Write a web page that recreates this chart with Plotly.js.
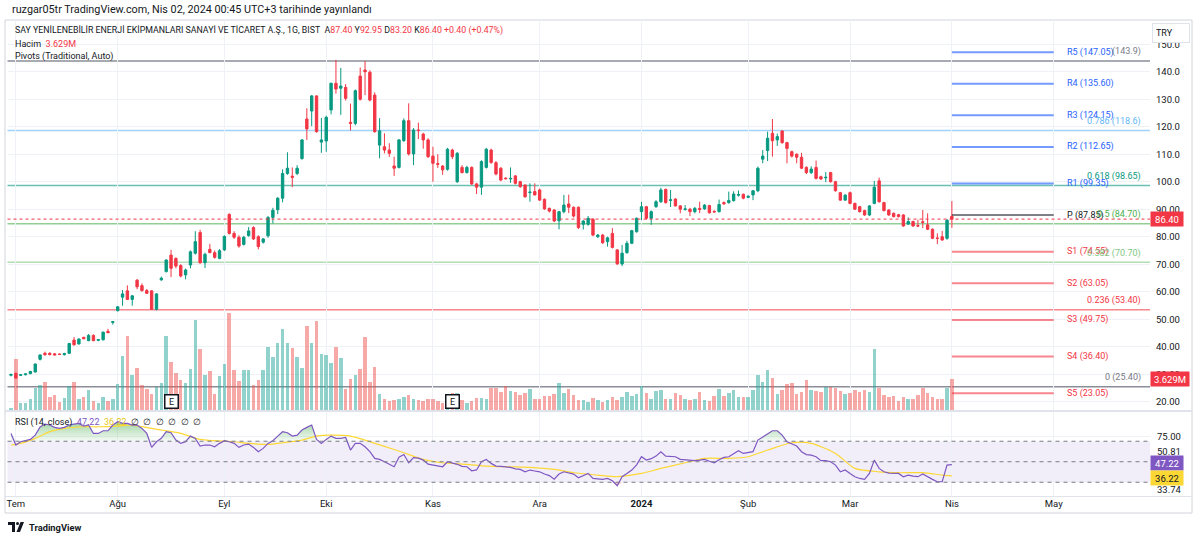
<!DOCTYPE html>
<html><head><meta charset="utf-8">
<script src="https://cdn.plot.ly/plotly-3.0.1.min.js"></script>
<style>html,body{margin:0;padding:0;background:#fff;}#chart{width:1200px;height:540px;}</style>
</head><body><div id="chart"></div>
<script>
// ---------------- DATA ----------------
const openP = [29.6,30.3,29.6,29.8,30.2,30.8,35.4,37.6,37.6,37.4,37.3,37.1,37.6,42.4,41.0,43.4,42.2,44.1,42.3,42.5,
45.6,48.8,53.1,58.0,60.3,57.2,64.2,62.2,60.4,60.3,53.6,64.3,67.3,73.3,72.1,69.5,66.1,69.7,74.0,81.5,
70.5,75.4,74.2,72.1,75.2,88.1,81.2,79.8,77.2,80.4,83.3,80.0,78.0,80.3,87.0,89.8,94.0,103.0,102.0,103.0,
108.4,122.8,125.7,131.2,114.4,114.8,126.1,135.8,134.0,134.3,121.6,121.2,138.4,140.6,139.8,131.5,113.3,112.7,111.5,105.7,
105.2,114.9,122.2,110.1,118.8,117.3,115.2,109.3,106.6,105.7,104.5,111.5,100.0,105.2,103.3,105.2,99.2,98.0,105.2,111.5,
106.9,104.9,101.3,101.0,102.1,100.0,98.8,96.0,96.4,97.0,93.6,90.3,89.7,85.8,89.1,91.9,90.7,90.7,84.5,84.5,
86.3,80.0,80.6,78.2,81.2,75.2,70.1,74.2,77.6,81.8,89.1,90.9,86.7,90.9,92.7,97.2,93.2,93.7,91.2,89.9,
90.0,89.1,90.3,90.1,91.3,89.2,89.1,92.4,92.4,93.1,95.1,95.4,94.3,95.2,96.7,108.2,111.3,117.6,115.2,118.4,
114.2,110.9,110.0,108.9,105.2,103.3,105.2,101.8,101.4,103.3,100.0,96.0,93.3,96.0,92.1,90.9,89.5,87.9,92.1,100.3,
92.4,89.7,88.5,88.0,87.9,84.6,85.5,84.0,85.4,84.3,82.7,79.5,80.0,79.4,87.40];
const highP = [30.2,30.6,30.0,30.3,31.2,33.9,37.2,38.2,38.0,37.7,37.5,37.8,41.3,43.5,43.0,43.6,44.6,44.5,42.8,45.4,
46.5,49.3,54.8,60.6,62.3,58.8,64.6,63.0,61.0,60.5,59.4,65.5,71.8,75.2,72.5,70.0,68.4,75.0,82.0,82.5,
74.2,77.4,75.0,75.5,80.5,88.5,82.0,80.5,80.3,83.5,83.8,80.5,79.5,87.5,90.5,94.4,104.5,110.7,105.2,106.0,
115.5,126.7,131.5,131.4,123.2,124.0,136.0,144.3,141.4,135.5,128.4,133.5,141.5,143.9,140.5,132.5,123.1,117.6,114.0,109.1,
115.5,123.0,128.5,119.5,121.5,117.8,115.8,112.7,110.0,106.0,112.3,112.0,110.8,106.0,105.8,105.6,99.6,107.8,112.3,112.0,
107.5,105.3,101.6,105.2,102.4,100.3,99.0,99.4,99.4,97.5,93.9,90.6,90.0,89.4,95.2,95.3,91.0,91.0,86.0,87.5,
86.8,81.0,81.0,80.0,83.1,75.5,77.0,78.5,82.5,87.0,92.7,91.2,89.5,93.3,97.8,97.5,97.0,94.0,91.5,91.5,
90.5,90.8,92.7,91.8,91.6,89.6,93.5,92.8,96.4,96.5,96.8,95.7,95.0,97.0,105.5,111.5,118.2,122.8,117.5,118.8,
114.5,111.3,110.3,110.5,105.6,105.6,107.7,102.2,103.5,103.6,100.3,96.3,95.5,96.4,92.4,91.2,89.8,91.5,100.3,101.5,
92.7,90.0,88.8,88.3,88.2,87.0,85.8,86.2,89.7,88.5,83.0,81.2,82.1,86.4,92.95];
const lowP = [29.2,28.3,29.4,29.6,30.0,30.6,35.0,36.7,36.9,36.9,37.0,36.8,37.4,40.4,40.8,42.7,42.0,42.0,42.0,42.3,
44.9,48.0,52.8,54.9,57.0,54.9,60.9,60.0,59.2,53.4,53.2,64.0,67.0,65.3,68.5,65.2,64.5,68.5,73.5,70.2,
68.6,74.0,72.0,71.8,74.8,80.8,79.2,76.0,76.8,80.0,78.8,75.4,77.5,79.6,84.8,88.2,92.5,102.5,98.0,102.4,
108.0,115.2,120.2,117.8,110.5,110.9,124.5,132.0,124.3,129.5,118.6,120.5,129.5,131.5,129.2,117.8,108.5,110.3,109.0,102.1,
104.8,114.5,109.5,106.0,115.5,112.0,108.6,100.0,105.0,102.5,104.0,108.2,99.5,103.0,103.0,98.8,95.5,95.2,104.8,106.5,
102.3,100.2,100.8,99.6,99.0,97.8,94.2,92.7,95.0,93.0,89.8,88.8,85.3,82.7,88.5,88.6,87.0,82.8,82.6,84.0,
80.2,79.5,77.4,76.4,75.7,69.8,69.3,73.8,77.3,81.5,86.0,86.2,84.3,90.5,92.3,92.0,90.8,91.0,88.5,89.5,
87.5,88.5,88.6,89.8,88.4,88.8,88.8,91.5,92.0,92.8,94.6,93.6,94.0,93.3,96.2,106.7,107.5,109.1,113.0,113.8,
106.7,108.8,106.7,104.6,102.8,102.8,100.8,100.6,99.8,99.7,96.4,93.0,93.0,91.8,89.7,88.8,87.6,87.5,91.8,92.4,
89.2,87.6,87.0,87.0,83.6,84.3,83.6,83.6,83.1,82.4,79.1,77.3,78.5,78.9,83.20];
const closeP = [29.9,28.6,29.8,30.1,31.0,33.7,37.0,37.1,37.1,37.0,37.2,37.5,41.2,40.7,42.8,42.9,44.1,42.2,42.6,45.3,
45.1,49.1,54.5,59.2,57.2,58.5,61.8,60.4,59.4,53.6,59.2,64.9,71.5,68.5,69.3,65.7,67.9,74.5,78.2,70.5,
73.6,74.2,72.5,74.9,80.1,81.2,79.8,76.6,79.8,82.1,79.2,76.4,79.2,87.0,89.6,94.0,103.0,104.9,101.6,104.9,
115.2,119.2,131.2,118.2,115.2,123.4,135.8,133.7,134.8,130.3,121.2,133.1,130.0,140.0,129.7,118.2,118.5,111.5,110.3,104.9,
115.2,122.2,110.1,118.8,118.6,115.2,109.1,106.7,106.3,104.3,111.8,109.1,110.3,103.3,105.2,99.2,98.0,107.3,111.8,107.0,
102.8,100.6,101.1,101.2,99.4,98.2,94.5,96.2,95.2,93.3,90.1,89.3,85.7,89.1,91.5,90.7,87.5,83.3,85.7,86.7,
80.6,80.6,77.8,79.6,76.1,70.1,74.0,77.6,82.2,86.7,90.9,86.7,89.1,92.7,97.0,92.4,93.4,91.2,90.0,90.1,
89.1,90.3,89.9,91.5,88.7,89.0,91.7,92.0,93.2,95.5,95.3,94.0,94.7,96.7,104.9,109.3,115.8,114.9,116.4,114.2,
112.1,109.3,108.9,104.9,103.3,104.6,101.2,101.0,101.6,100.0,96.7,93.3,95.1,92.1,90.0,89.1,87.9,91.2,98.0,92.7,
89.5,87.9,87.3,87.3,83.9,85.5,83.9,83.9,85.2,82.7,79.4,79.4,78.8,86.0,86.40];
const volumeM = [0.19,5.87,0.77,0.85,1.24,2.51,2.90,3.28,1.54,1.74,0.97,1.43,2.78,3.28,1.24,1.47,2.32,1.04,0.77,1.47,
1.04,1.27,3.01,6.29,8.57,4.05,4.90,2.90,2.39,1.81,2.70,3.09,8.57,5.60,4.25,3.47,3.17,4.75,10.42,7.03,
4.05,4.56,1.85,3.94,5.33,11.20,4.63,3.36,4.63,4.63,2.86,3.47,4.63,7.34,6.18,7.72,9.34,7.72,7.14,6.10,
4.83,9.73,7.72,10.35,6.49,6.37,5.48,7.26,6.06,2.39,3.55,4.05,4.71,8.49,3.28,5.02,1.81,1.24,1.08,1.16,
1.27,1.47,1.74,1.31,1.16,1.04,1.24,1.31,1.04,0.77,1.24,1.93,2.01,1.16,0.85,1.04,1.35,1.35,1.24,2.51,
2.59,2.12,2.78,2.20,2.08,1.74,2.01,2.39,1.31,1.24,1.62,1.62,1.85,3.17,2.01,2.43,1.74,1.16,1.16,0.97,
1.39,1.16,0.97,1.16,1.47,1.16,1.51,2.08,1.58,1.81,2.78,1.93,1.24,2.20,2.28,1.31,1.24,1.93,1.74,1.31,
1.16,1.24,2.08,1.16,1.04,1.62,2.39,1.62,1.93,2.28,1.54,1.54,1.54,2.28,4.05,3.28,4.59,3.67,1.81,2.32,
3.01,3.09,1.85,2.08,3.47,2.32,2.20,2.08,2.70,2.70,2.51,2.16,1.81,2.01,2.32,2.12,2.28,2.08,7.03,2.51,
1.74,1.47,1.62,1.04,1.47,1.27,1.27,1.74,2.51,1.93,1.54,1.24,1.24,2.55,3.629];
const rsi = [77.6,66.3,69.5,70.5,71.8,76,84,86.7,85.8,83.5,82.5,83.5,85.8,86.7,87.4,84.8,85.8,77.6,77.6,80.2,
80.2,85.8,89,87.4,87.4,85.8,85.8,82.5,77.6,64,69.5,72.8,79.3,78.3,71.1,67.9,69.5,75,72.8,65.3,
66.3,66.3,64.6,67.9,70.5,69.5,67.9,64,66.3,67.2,64,59.8,63,67.9,70.5,75,79.3,78.3,75,76,
80.9,83.5,85.8,71.8,67.9,71.8,75,72.8,72.8,73.7,61.4,67.9,67.9,64.6,59.8,53.3,52.3,50,47.7,45.1,
54.5,57,49,54,53.5,51.6,47.7,46.7,46,45.1,50,49,47.5,45.5,45.1,41.2,42,50,52.3,48.4,
45.8,45.4,45.1,44.5,43,42.5,40.2,41.9,41,40.2,38,36.5,33,38,40.2,39,38,34.4,36.5,38.6,
33.7,33.5,32.8,33.7,31.5,26.6,35.4,38.5,41.9,47,54.9,51.6,53,55.5,59.8,55.5,55.5,54.9,52.3,52,
51.6,51,51.5,52.3,50.5,49,52,54.2,54.9,58.1,60.7,58.1,58.8,59.8,71.1,74,77.6,80.2,80.2,76,
69.5,67,65.3,59.8,57,56.5,54.9,51,51,50,46.7,40.2,42,38.6,35.4,33.7,32.8,38.6,51.6,43.5,
40.2,39,38.6,38.6,35.4,37,36,35.4,38,35,32.8,30.5,30.5,46.8,47.22];
const rsiMaIdx = [0,2,5,8,11,15,18,22,25,29,32,35,39,42,46,49,53,56,60,63,66,70,73,77,81,85,89,94,98,103,
107,112,116,121,125,130,134,139,143,148,152,156,161,165,170,174,179,183,188,192,194];
const rsiMaVal = [66.3,67.9,72.8,79.3,82.5,84.1,84.1,84.8,85.8,82.5,80.2,77.6,71.8,70.5,69.5,67.9,66.9,68.5,71.1,75,
76,75,71.1,65,58.8,52.3,49,47.4,45.8,45.1,44.5,42.5,39.3,37,35.4,38.6,43.5,49,53.3,53.3,
54.9,61.4,68.5,67.9,58.1,43.5,40.2,39.3,39.3,37,36.22];
const monthTickIdx = [1,22,44,65,87,109,130,152,173,194,215];
const monthTickText = ['Tem','Ağu','Eyl','Eki','Kas','Ara','<b>2024</b>','Şub','Mar','Nis','May'];
const priceTicks = [20,30,40,50,60,70,80,90,100,110,120,130,140,150];
const pivotNames = ['R5','R4','R3','R2','R1','P','S1','S2','S3','S4','S5'];
const pivotVals = [147.05,135.60,124.15,112.65,99.35,87.85,74.55,63.05,49.75,36.40,23.05];
const fibLabels = ['','0.786','0.618','0.5','0.382','0.236','0'];
const fibVals = [143.9,118.6,98.65,84.70,70.70,53.40,25.40];
const fibColors = ['#787b86','#64b5f6','#089981','#4caf50','#81c784','#f23645','#787b86'];
const earningsIdx = [33,91];
const rsiLevels = [70,50,30];
const rsiScaleLabels = ['75.00','50.81','33.74'];

// ---------------- LAYOUT HELPERS ----------------
const W = 1200, H = 540;
const PX = x => x / W, PY = y => 1 - y / H;
const FONT = 'Roboto, "Noto Sans", sans-serif';
const TXT = '#131722';
const UP = '#089981', DN = '#f23645';
const n = closeP.length;
const idx = closeP.map((_, i) => i);
const last = n - 1;
const mayIdx = monthTickIdx[monthTickIdx.length - 1];

const xRange = [-0.72, 234.85];
const priceRange = [16.98, 158.8];
const volRange = [0, 45.2];
const rsiRange = [16.6, 98.5];
const mainDom = [PY(410), PY(20)];
const rsiDom = [PY(496), PY(412)];
const xDom = [PX(7.5), PX(1150)];

const volColors = idx.map(i => closeP[i] >= openP[i] ? 'rgba(38,166,154,0.5)' : 'rgba(239,83,80,0.5)');

const traces = [];
traces.push({type:'bar', x: idx, y: volumeM, xaxis:'x', yaxis:'y', width:0.72,
  marker:{color: volColors, line:{width:0}}, hoverinfo:'skip', showlegend:false});
traces.push({type:'candlestick', x: idx, open: openP, high: highP, low: lowP, close: closeP,
  xaxis:'x', yaxis:'y2', whiskerwidth:0,
  increasing:{line:{color:UP, width:1}, fillcolor:UP},
  decreasing:{line:{color:DN, width:1}, fillcolor:DN},
  hoverinfo:'skip', showlegend:false});
// pivot segments
pivotNames.forEach((nm, k) => {
  const col = nm[0] === 'R' ? 'rgba(41,98,255,0.65)' : nm[0] === 'S' ? 'rgba(242,54,69,0.6)' : 'rgba(19,23,34,0.55)';
  traces.push({type:'scatter', mode:'lines', x:[last, mayIdx], y:[pivotVals[k], pivotVals[k]],
    xaxis:'x', yaxis:'y2', line:{color: col, width: 2}, hoverinfo:'skip', showlegend:false, cliponaxis:false});
});
// RSI fills
traces.push({type:'scatter', mode:'lines', x: idx, y: idx.map(() => 70), xaxis:'x2', yaxis:'y3',
  line:{width:0, color:'rgba(0,0,0,0)'}, hoverinfo:'skip', showlegend:false});
traces.push({type:'scatter', mode:'lines', x: idx, y: rsi.map(v => Math.max(v, 70)), xaxis:'x2', yaxis:'y3',
  fill:'tonexty', fillcolor:'rgba(76,175,80,0.3)',
  fillgradient:{type:'vertical', start:70, stop:90, colorscale:[[0,'rgba(76,175,80,0.05)'],[1,'rgba(76,175,80,0.55)']]},
  line:{width:0, color:'rgba(0,0,0,0)'}, hoverinfo:'skip', showlegend:false});
traces.push({type:'scatter', mode:'lines', x: idx, y: idx.map(() => 30), xaxis:'x2', yaxis:'y3',
  line:{width:0, color:'rgba(0,0,0,0)'}, hoverinfo:'skip', showlegend:false});
traces.push({type:'scatter', mode:'lines', x: idx, y: rsi.map(v => Math.min(v, 30)), xaxis:'x2', yaxis:'y3',
  fill:'tonexty', fillcolor:'rgba(242,54,69,0.25)',
  line:{width:0, color:'rgba(0,0,0,0)'}, hoverinfo:'skip', showlegend:false});
traces.push({type:'scatter', mode:'lines', x: rsiMaIdx, y: rsiMaVal, xaxis:'x2', yaxis:'y3',
  line:{color:'#fdd835', width:1.2, shape:'spline', smoothing:0.7}, hoverinfo:'skip', showlegend:false});
traces.push({type:'scatter', mode:'lines', x: idx, y: rsi, xaxis:'x2', yaxis:'y3',
  line:{color:'#7e57c2', width:1.2}, hoverinfo:'skip', showlegend:false});

// ---------------- SHAPES ----------------
const shapes = [];
shapes.push({type:'rect', xref:'paper', yref:'paper', x0:PX(5), x1:PX(1192), y0:PY(513), y1:PY(20),
  line:{color:'#d1d4dc', width:1}, layer:'below'});
shapes.push({type:'line', xref:'paper', yref:'paper', x0:PX(5), x1:PX(1192), y0:PY(411), y1:PY(411),
  line:{color:'#e0e3eb', width:2}});
shapes.push({type:'line', xref:'paper', yref:'paper', x0:PX(5), x1:PX(1192), y0:PY(496.5), y1:PY(496.5),
  line:{color:'#e0e3eb', width:1}});
fibVals.forEach((v, k) => shapes.push({type:'line', xref:'x domain', yref:'y2', x0:0, x1:1, y0:v, y1:v,
  line:{color: fibColors[k], width:1.5}, opacity: (k === 0 || k === 6) ? 0.85 : 0.6, layer:'below'}));
shapes.push({type:'line', xref:'x domain', yref:'y2', x0:0, x1:1, y0:closeP[last], y1:closeP[last],
  line:{color:DN, width:1, dash:'dot'}});
shapes.push({type:'rect', xref:'x2 domain', yref:'y3', x0:0, x1:1, y0:rsiLevels[2], y1:rsiLevels[0],
  fillcolor:'rgba(126,87,194,0.1)', line:{width:0}, layer:'below'});
rsiLevels.forEach(v => shapes.push({type:'line', xref:'x2 domain', yref:'y3', x0:0, x1:1, y0:v, y1:v,
  line:{color:'#787b86', width:1, dash:'4px,4px'}}));
const pathPx = pts => pts.map((p, j) => (j ? 'L ' : 'M ') + PX(p[0]) + ' ' + PY(p[1])).join(' ') + ' Z';
shapes.push({type:'path', xref:'paper', yref:'paper', path: pathPx([[8,522],[15,522],[15,532],[12,532],[12,525],[8,525]]),
  fillcolor:TXT, line:{width:0}});
shapes.push({type:'circle', xref:'paper', yref:'paper', x0:PX(16), x1:PX(19), y0:PY(525), y1:PY(522),
  fillcolor:TXT, line:{width:0}});
shapes.push({type:'path', xref:'paper', yref:'paper', path: pathPx([[20.5,522],[24,522],[20,532],[16.5,532]]),
  fillcolor:TXT, line:{width:0}});

// ---------------- ANNOTATIONS ----------------
const ann = [];
const red = s => '<span style="color:#f23645">' + s + '</span>';
const A = (x, y, text, extra) => Object.assign({xref:'paper', yref:'paper', x:PX(x), y:PY(y), text,
  showarrow:false, xanchor:'left', yanchor:'middle', font:{family:FONT, size:9, color:TXT}}, extra || {});
const chg = closeP[last] - closeP[last - 1];
const pct = chg / closeP[last - 1] * 100;
ann.push(A(10, 10, 'ruzgar05tr TradingView.com, Nis 02, 2024 00:45 UTC+3 tarihinde yayınlandı', {font:{family:FONT, size:10.8, color:TXT}}));
ann.push(A(13, 31, 'SAY YENİLENEBİLİR ENERJİ EKİPMANLARI SANAYİ VE TİCARET A.Ş., 1G, BIST\u00a0 A' + red(openP[last].toFixed(2)) +
  ' Y' + red(highP[last].toFixed(2)) + ' D' + red(lowP[last].toFixed(2)) + ' K' + red(closeP[last].toFixed(2)) +
  ' ' + red((chg >= 0 ? '+' : '') + chg.toFixed(2) + ' (' + (pct >= 0 ? '+' : '') + pct.toFixed(2) + '%)'),
  {font:{family:FONT, size:8.8, color:TXT}}));
ann.push(A(13, 44, 'Hacim\u00a0 ' + red(volumeM[last].toFixed(3) + 'M')));
ann.push(A(13, 56, 'Pivots (Traditional, Auto)'));
ann.push(A(13, 422, 'RSI (14, close)\u00a0 <span style="color:#7e57c2">' + rsi[last].toFixed(2) + '</span>\u00a0 <span style="color:#e6c619">' +
  rsiMaVal[rsiMaVal.length - 1].toFixed(2) + '</span>\u00a0 ∅\u00a0 ∅\u00a0 ∅\u00a0 ∅\u00a0 ∅\u00a0 ∅'));
ann.push(A(27, 527, '<b>TradingView</b>', {font:{family:FONT, size:9.3, color:TXT}}));
ann.push(A(1152, 33, 'TRY', {bgcolor:'#fff', bordercolor:'#e0e3eb', borderwidth:1, borderpad:3, width:30, height:12, align:'left'}));
pivotNames.forEach((nm, k) => ann.push({xref:'paper', yref:'y2', x:PX(1065), y:pivotVals[k], xanchor:'left', yanchor:'middle',
  showarrow:false, text: nm + ' (' + pivotVals[k].toFixed(2) + ')',
  font:{family:FONT, size:9, color: nm[0] === 'R' ? '#2962ff' : nm[0] === 'S' ? '#f23645' : TXT}}));
fibVals.forEach((v, k) => ann.push({xref:'paper', yref:'y2', x:PX(1143), y:v, xanchor:'right', yanchor:'middle', yshift:9,
  showarrow:false, text: (fibLabels[k] ? fibLabels[k] + ' ' : '') + '(' + (v >= 100 ? v.toFixed(1) : v.toFixed(2)) + ')',
  font:{family:FONT, size:9, color: fibColors[k]}}));
ann.push({xref:'paper', yref:'y2', x:PX(1150), y:closeP[last], xanchor:'left', yanchor:'middle', showarrow:false,
  text:closeP[last].toFixed(2), bgcolor:DN, borderpad:1.5, width:29, font:{family:FONT, size:9.5, color:'#fff'}});
ann.push({xref:'paper', yref:'y', x:PX(1150), y:volumeM[last], xanchor:'left', yanchor:'middle', showarrow:false,
  text:volumeM[last].toFixed(3) + 'M', bgcolor:DN, borderpad:1.5, width:35, font:{family:FONT, size:9.5, color:'#fff'}});
const rsiLabelVals = [75, 50.81, 33.74];
const rsiLabelShift = [0, 9, -11];
rsiScaleLabels.forEach((t, k) => ann.push({xref:'paper', yref:'y3', x:PX(1155), y:rsiLabelVals[k], yshift:rsiLabelShift[k],
  xanchor:'left', yanchor:'middle', showarrow:false, text:t, font:{family:FONT, size:9.5, color:TXT}}));
ann.push({xref:'paper', yref:'y3', x:PX(1150), y:rsi[last], yshift:2, xanchor:'left', yanchor:'middle', showarrow:false,
  text:rsi[last].toFixed(2), bgcolor:'#7e57c2', borderpad:1.5, width:29, font:{family:FONT, size:9.5, color:'#fff'}});
ann.push({xref:'paper', yref:'y3', x:PX(1150), y:rsiMaVal[rsiMaVal.length - 1], yshift:-2, xanchor:'left', yanchor:'middle', showarrow:false,
  text:rsiMaVal[rsiMaVal.length - 1].toFixed(2), bgcolor:'#fdd835', borderpad:1.5, width:29, font:{family:FONT, size:9.5, color:TXT}});
earningsIdx.forEach(e => ann.push({xref:'x', yref:'paper', x:e, y:PY(401), xanchor:'center', yanchor:'middle', showarrow:false,
  text:'E', bgcolor:'#fff', bordercolor:TXT, borderwidth:1.5, borderpad:1, width:10, height:10,
  font:{family:FONT, size:9, color:TXT}}));

const layout = {
  width:W, height:H, margin:{l:0, r:0, t:0, b:0}, paper_bgcolor:'#fff', plot_bgcolor:'rgba(0,0,0,0)',
  showlegend:false, hovermode:false, dragmode:false, bargap:0,
  xaxis:{domain:xDom, range:xRange, anchor:'y', tickvals:monthTickIdx, showticklabels:false, showgrid:true,
    gridcolor:'#eef1f6', zeroline:false, showline:false, ticks:'', rangeslider:{visible:false}, fixedrange:true},
  xaxis2:{domain:xDom, range:xRange, anchor:'y3', matches:'x', tickvals:monthTickIdx, ticktext:monthTickText,
    showgrid:true, gridcolor:'#eef1f6', zeroline:false, showline:false, ticks:'', ticklabelstandoff:0,
    tickfont:{family:FONT, size:9.5, color:TXT}, fixedrange:true},
  yaxis:{domain:mainDom, range:volRange, anchor:'x', visible:false, fixedrange:true},
  yaxis2:{domain:mainDom, range:priceRange, overlaying:'y', anchor:'x', side:'right', tickvals:priceTicks,
    ticktext:priceTicks.map(v => v >= 100 ? v.toFixed(1) : v.toFixed(2)), showgrid:true, gridcolor:'#eef1f6',
    zeroline:false, showline:false, ticks:'', ticklabelstandoff:5, tickfont:{family:FONT, size:9.5, color:TXT}, fixedrange:true},
  yaxis3:{domain:rsiDom, range:rsiRange, anchor:'x2', side:'right', tickvals:[75], showticklabels:false,
    showgrid:true, gridcolor:'#eef1f6', zeroline:false, showline:false, ticks:'', fixedrange:true},
  shapes: shapes, annotations: ann
};
Plotly.newPlot('chart', traces, layout, {staticPlot:true, displayModeBar:false});
</script>
</body></html>
